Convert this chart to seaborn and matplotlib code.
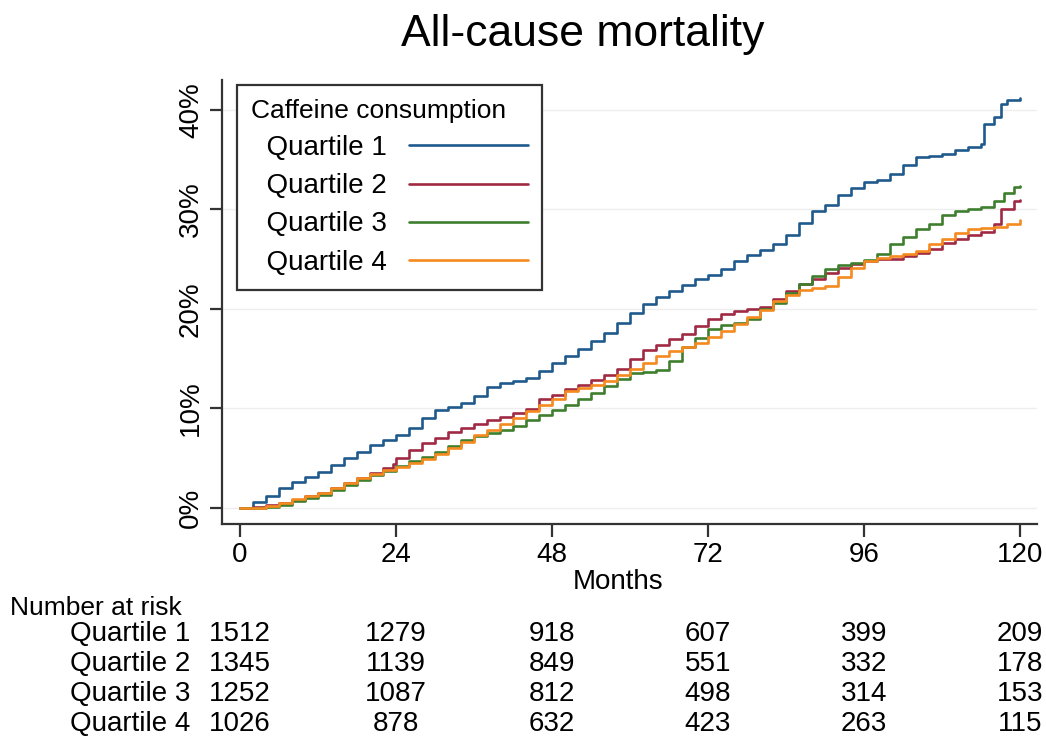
import pandas as pd
import matplotlib
matplotlib.use("Agg")
import matplotlib.pyplot as plt
import seaborn as sns

# cumulative incidence (%)
q1_months = [0, 2, 4, 6, 8, 10, 12, 14, 16, 18, 20, 22, 24, 26, 28, 30, 32, 34, 36, 38,
             40, 42, 44, 46, 48, 50, 52, 54, 56, 58, 60, 62, 64, 66, 68, 70, 72, 74, 76, 78,
             80, 82, 84, 86, 88, 90, 92, 94, 96, 98, 100, 102, 104, 106, 108, 110, 112, 114,
             114.5, 116, 117, 118, 120]
q1_pct = [0, 0.6, 1.2, 2.0, 2.6, 3.1, 3.6, 4.3, 5.0, 5.6, 6.3, 6.8, 7.3, 8.0, 9.0, 9.8, 10.2,
          10.6, 11.3, 12.2, 12.6, 12.8, 13.1, 13.8, 14.6, 15.3, 16.0, 16.8, 17.6, 18.6, 19.6,
          20.5, 21.2, 21.8, 22.4, 23.0, 23.4, 24.0, 24.8, 25.4, 25.9, 26.5, 27.4, 28.6, 29.8,
          30.4, 31.4, 32.2, 32.8, 33.0, 33.6, 34.5, 35.3, 35.4, 35.6, 36.0, 36.3, 36.6, 38.6,
          39.3, 40.6, 41.0, 41.2]

q2_months = [0, 2, 4, 6, 8, 10, 12, 14, 16, 18, 20, 22, 23.5, 24, 26, 28, 30, 32, 34, 36, 38,
             40, 42, 44, 46, 48, 50, 52, 54, 56, 58, 60, 62, 64, 66, 68, 70, 72, 74, 76, 78,
             80, 82, 84, 86, 88, 90, 92, 94, 96, 98, 100, 102, 104, 106, 108, 110, 112, 114,
             116, 117, 119, 120]
q2_pct = [0, 0.1, 0.3, 0.5, 0.8, 1.2, 1.5, 2.0, 2.5, 3.0, 3.5, 4.0, 4.4, 5.0, 5.8, 6.5, 7.0,
          7.6, 8.0, 8.4, 8.8, 9.1, 9.5, 9.9, 11.0, 11.4, 12.0, 12.4, 12.9, 13.4, 14.0, 15.0,
          15.9, 16.4, 17.0, 17.5, 18.3, 19.0, 19.5, 19.8, 20.0, 20.2, 21.0, 21.8, 22.5, 23.0,
          23.6, 24.1, 24.5, 24.8, 25.0, 25.0, 25.3, 25.6, 26.0, 26.6, 27.0, 27.4, 27.7, 28.5,
          30.0, 30.8, 30.9]

q3_months = [0, 2, 4, 6, 8, 10, 12, 14, 16, 18, 20, 22, 24, 26, 28, 30, 32, 34, 36, 38,
             40, 42, 44, 46, 48, 50, 52, 54, 56, 58, 60, 62, 64, 66, 68, 70, 72, 74, 76, 78,
             80, 82, 84, 86, 88, 90, 92, 94, 96, 98, 100, 102, 104, 106, 108, 110, 112, 114,
             116, 117.5, 119, 120]
q3_pct = [0, 0, 0.1, 0.3, 0.7, 1.0, 1.3, 1.8, 2.3, 2.8, 3.3, 3.7, 4.2, 4.7, 5.1, 5.6, 6.2,
          6.8, 7.2, 7.5, 7.8, 8.2, 8.8, 9.3, 9.8, 10.4, 11.0, 11.6, 12.3, 13.0, 13.6, 13.7,
          13.9, 14.8, 16.2, 17.1, 18.0, 18.4, 18.6, 19.0, 20.0, 20.6, 21.6, 22.5, 23.3, 24.0,
          24.4, 24.6, 24.9, 25.5, 26.5, 27.2, 28.0, 28.5, 29.4, 29.8, 30.0, 30.2, 30.8, 31.6,
          32.3, 32.4]

q4_months = [0, 2, 4, 6, 8, 10, 12, 14, 16, 18, 20, 22, 24, 26, 28, 30, 32, 34, 36, 38,
             40, 42, 44, 46, 48, 50, 52, 54, 56, 58, 60, 62, 64, 66, 68, 70, 72, 74, 76, 78,
             80, 82, 84, 86, 88, 90, 92, 94, 96, 98, 100, 102, 104, 106, 108, 110, 112, 114,
             116, 118, 120]
q4_pct = [0, 0.05, 0.2, 0.5, 0.9, 1.2, 1.5, 2.0, 2.5, 3.0, 3.4, 3.8, 4.1, 4.5, 4.9, 5.4,
          6.0, 6.6, 7.3, 7.8, 8.4, 9.0, 9.7, 10.4, 11.0, 11.8, 12.1, 12.4, 12.8, 13.4, 14.0,
          14.6, 15.3, 15.8, 16.2, 16.6, 17.2, 17.8, 18.5, 19.2, 19.9, 20.8, 21.4, 21.9, 22.1,
          22.3, 23.2, 24.1, 24.8, 25.1, 25.3, 25.5, 25.8, 26.5, 27.0, 27.6, 28.0, 28.1, 28.2,
          28.5, 28.9]

groups = ["Quartile 1", "Quartile 2", "Quartile 3", "Quartile 4"]
colors = ["#1f5a8c", "#a02a44", "#3e7f2e", "#f58a1f"]

risk_months = [0, 24, 48, 72, 96, 120]
at_risk = {
    "Quartile 1": [1512, 1279, 918, 607, 399, 209],
    "Quartile 2": [1345, 1139, 849, 551, 332, 178],
    "Quartile 3": [1252, 1087, 812, 498, 314, 153],
    "Quartile 4": [1026, 878, 632, 423, 263, 115],
}

frames = []
for g, m, p in zip(groups, [q1_months, q2_months, q3_months, q4_months],
                   [q1_pct, q2_pct, q3_pct, q4_pct]):
    frames.append(pd.DataFrame({"months": m, "pct": p, "group": g}))
df = pd.concat(frames, ignore_index=True)

sns.set_style("white")
plt.rcParams["font.family"] = ["Liberation Sans", "DejaVu Sans"]
plt.rcParams["text.color"] = "black"
plt.rcParams["xtick.color"] = "black"
plt.rcParams["ytick.color"] = "black"
plt.rcParams["axes.labelcolor"] = "black"

fig = plt.figure(figsize=(10.46, 7.43), dpi=100)
ax = fig.add_axes([0.2122, 0.2948, 0.7792, 0.5975])

sns.lineplot(data=df, x="months", y="pct", hue="group", hue_order=groups,
             palette=dict(zip(groups, colors)), estimator=None, sort=False,
             drawstyle="steps-post", linewidth=1.9, ax=ax)

ax.set_xlim(-2.77, 122.6)
ax.set_ylim(-1.6, 43.0)
ax.set_xticks(risk_months)
ax.set_yticks([0, 10, 20, 30, 40])
ax.set_yticklabels(["0%", "10%", "20%", "30%", "40%"])
ax.yaxis.grid(True, color="#eeeeee", linewidth=1)
ax.set_axisbelow(True)
for side in ["top", "right"]:
    ax.spines[side].set_visible(False)
for side in ["left", "bottom"]:
    ax.spines[side].set_color("#333333")
    ax.spines[side].set_linewidth(1.6)
ax.tick_params(axis="both", direction="out", length=9, width=1.6, color="#333333",
               labelsize=20, pad=4, left=True, bottom=True)
plt.setp(ax.get_yticklabels(), rotation=90, va="center")
ax.set_xlabel("")
ax.set_ylabel("")

handles, labels = ax.get_legend_handles_labels()
labels = ["  " + l for l in labels]  # entries sit slightly indented under the title
leg = ax.legend(handles, labels, title="Caffeine consumption", loc="upper left",
                bbox_to_anchor=(0.018, 0.989), borderaxespad=0, markerfirst=False,
                fontsize=20, title_fontsize=19, handlelength=4.3, handletextpad=0.8,
                labelspacing=0.44, borderpad=0.5, fancybox=False, framealpha=1,
                edgecolor="#333333", alignment="left")
leg.get_frame().set_linewidth(1.6)

fig.text(0.557, 0.953, "All-cause mortality", ha="center", va="center", fontsize=32)
fig.text(0.591, 0.217, "Months", ha="center", va="center", fontsize=20)

# number at risk table
fig.text(0.01, 0.182, "Number at risk", ha="left", va="center", fontsize=19)
row_y = [0.147, 0.106, 0.066, 0.026]
for g, yy in zip(groups, row_y):
    fig.text(0.182, yy, g, ha="right", va="center", fontsize=20)
    for mo, n in zip(risk_months, at_risk[g]):
        ax.annotate(str(n), xy=(mo, yy), xycoords=("data", "figure fraction"),
                    ha="center", va="center", fontsize=20, annotation_clip=False)

fig.savefig("out.png", dpi=100, facecolor="white")
